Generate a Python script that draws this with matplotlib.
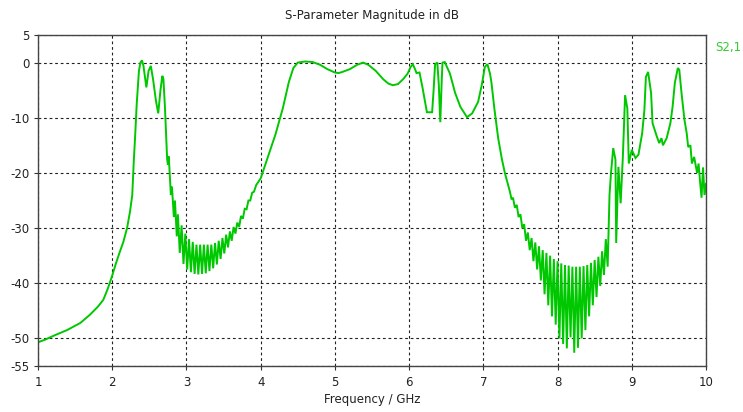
import matplotlib
matplotlib.use("Agg")
import matplotlib.pyplot as plt

# |S21| in dB versus frequency (GHz), kept as consecutive pieces of the trace

# low-frequency skirt and the first passband (1.0 .. 2.77 GHz)
f_band1 = [1.00, 1.10, 1.23, 1.39, 1.57, 1.70, 1.81, 1.88, 1.94, 2.00, 2.05, 2.10, 2.15, 2.20,
           2.24, 2.27, 2.29, 2.31, 2.33, 2.36, 2.38, 2.40, 2.42, 2.46, 2.49, 2.52, 2.55, 2.59,
           2.62, 2.65, 2.675, 2.69, 2.71, 2.73, 2.74, 2.75, 2.76, 2.77]
s_band1 = [-50.7, -50.2, -49.4, -48.5, -47.2, -45.7, -44.2, -43.0, -41.0, -38.6, -36.4, -34.4,
           -32.5, -30.0, -27.0, -24.0, -18.0, -13.0, -7.5, -1.5, 0.0, 0.4, -0.5, -4.5, -1.5,
           -0.6, -3.0, -7.0, -9.2, -5.0, -2.4, -3.0, -8.0, -14.5, -17.5, -18.5, -17.0, -19.0]

# rippled stopband (2.79 .. 3.94 GHz)
f_stop1 = [2.79, 2.805, 2.83, 2.845, 2.87, 2.885, 2.91, 2.935, 2.96, 2.985, 3.01, 3.035, 3.06,
           3.085, 3.11, 3.135, 3.16, 3.185, 3.21, 3.235, 3.26, 3.285, 3.31, 3.335, 3.36, 3.385,
           3.41, 3.435, 3.46, 3.485, 3.51, 3.535, 3.56, 3.585, 3.61, 3.635, 3.66, 3.685, 3.71,
           3.735, 3.76, 3.785, 3.81, 3.835, 3.86, 3.885, 3.91, 3.94]
s_stop1 = [-24.0, -22.5, -28.0, -25.0, -31.5, -27.5, -34.5, -29.5, -36.5, -31.0, -37.5, -32.0,
           -38.0, -32.5, -38.3, -33.0, -38.4, -33.0, -38.3, -33.0, -38.2, -33.0, -37.8, -33.0,
           -37.3, -32.7, -36.6, -32.3, -35.6, -31.8, -34.6, -31.2, -33.5, -30.6, -32.3, -29.8,
           -31.0, -29.0, -29.8, -27.8, -28.3, -26.5, -26.6, -25.0, -25.0, -23.6, -23.4, -22.2]

# second passband (4.0 .. 7.38 GHz)
f_band2 = [4.00, 4.10, 4.20, 4.30, 4.38, 4.44, 4.50, 4.60, 4.70, 4.80, 4.90, 5.00, 5.05, 5.10,
           5.20, 5.30, 5.38, 5.45, 5.55, 5.65, 5.72, 5.78, 5.85, 5.92, 5.98, 6.02, 6.05, 6.08,
           6.10, 6.14, 6.18, 6.24, 6.31, 6.33, 6.35, 6.38, 6.40, 6.42, 6.44, 6.45, 6.48, 6.55,
           6.62, 6.69, 6.78, 6.85, 6.93, 6.98, 7.02, 7.055, 7.09, 7.11, 7.15, 7.20, 7.25, 7.29,
           7.33, 7.36, 7.38]
s_band2 = [-21.0, -17.0, -13.0, -8.2, -3.5, -1.0, 0.0, 0.2, 0.1, -0.4, -1.2, -1.8, -1.9, -1.7,
           -1.2, -0.4, 0.0, -0.4, -1.5, -3.0, -3.8, -4.1, -3.9, -3.0, -2.0, -0.8, -0.3, -1.2,
           -1.9, -1.8, -4.5, -9.0, -9.0, -5.0, -0.3, 0.0, -4.0, -10.8, -3.0, 0.0, 0.1, -2.0,
           -5.5, -8.0, -9.9, -9.2, -7.1, -4.0, -0.8, -0.3, -2.0, -3.7, -8.5, -13.7, -17.5, -20.0,
           -22.0, -23.5, -24.8]

# deep rippled stopband (7.40 .. 8.675 GHz)
f_stop2 = [7.40, 7.425, 7.45, 7.475, 7.50, 7.525, 7.55, 7.575, 7.60, 7.625, 7.65, 7.675, 7.70,
           7.725, 7.75, 7.775, 7.80, 7.825, 7.85, 7.875, 7.90, 7.925, 7.95, 7.975, 8.00, 8.025,
           8.05, 8.075, 8.10, 8.125, 8.15, 8.175, 8.20, 8.225, 8.25, 8.275, 8.30, 8.325, 8.35,
           8.375, 8.40, 8.425, 8.45, 8.475, 8.50, 8.525, 8.55, 8.575, 8.60, 8.625, 8.65, 8.675]
s_stop2 = [-24.5, -26.3, -25.8, -28.0, -27.5, -30.0, -29.3, -32.3, -30.8, -34.0, -31.8, -36.0,
           -32.6, -37.5, -33.3, -39.5, -34.0, -42.0, -34.5, -44.0, -35.0, -46.0, -35.6, -47.5,
           -36.0, -50.0, -36.4, -51.0, -36.7, -51.8, -36.8, -49.8, -37.0, -52.6, -37.0, -51.7,
           -37.0, -50.0, -36.9, -48.5, -36.7, -46.0, -36.3, -44.0, -35.8, -42.5, -35.2, -40.5,
           -34.2, -38.5, -32.0, -37.0]

# upper band (8.70 .. 10.0 GHz)
f_band3 = [8.70, 8.72, 8.75, 8.78, 8.79, 8.80, 8.82, 8.85, 8.88, 8.91, 8.94, 8.96, 9.00, 9.05,
           9.09, 9.14, 9.17, 9.19, 9.22, 9.26, 9.28, 9.34, 9.37, 9.40, 9.42, 9.47, 9.52, 9.55,
           9.58, 9.62, 9.64, 9.67, 9.71, 9.74, 9.76, 9.79, 9.81, 9.84, 9.88, 9.90, 9.92, 9.94,
           9.96, 9.98, 10.00]
s_band3 = [-24.0, -20.0, -15.5, -17.6, -32.7, -28.0, -18.9, -25.5, -17.0, -5.9, -8.3, -18.3,
           -15.8, -17.3, -16.7, -12.8, -8.6, -2.6, -1.7, -5.5, -11.0, -13.5, -14.6, -13.7, -15.0,
           -13.7, -11.0, -8.0, -3.7, -1.0, -1.3, -5.5, -10.4, -12.8, -15.3, -15.0, -18.3, -17.1,
           -20.0, -18.3, -21.6, -24.5, -19.0, -24.0, -22.0]

x_ticks = [1, 2, 3, 4, 5, 6, 7, 8, 9, 10]
y_ticks = [5, 0, -10, -20, -30, -40, -50, -55]

freq_ghz = f_band1 + f_stop1 + f_band2 + f_stop2 + f_band3
s21_db = s_band1 + s_stop1 + s_band2 + s_stop2 + s_band3

W, H = 743, 412
fig = plt.figure(figsize=(W / 100, H / 100), dpi=100)
fig.patch.set_facecolor("white")
ax = fig.add_axes([38 / W, 1 - 366 / H, (706 - 38) / W, (366 - 35) / H])

ax.plot(freq_ghz, s21_db, color="#00c800", lw=1.4, solid_joinstyle="miter")

ax.set_xlim(1, 10)
ax.set_ylim(-55, 5)
ax.set_xticks(x_ticks)
ax.set_yticks(y_ticks)
ax.set_xticklabels([str(t) for t in x_ticks])
ax.set_yticklabels([str(t) for t in y_ticks])
ax.tick_params(axis="both", labelsize=8.5, colors="#333333", length=3, width=0.8,
               direction="out", labelcolor="#222222")
ax.tick_params(axis="x", pad=4)
ax.tick_params(axis="y", pad=3)
ax.grid(True, color="#222222", linestyle=(0, (2.5, 2.5)), linewidth=0.8)
for sp in ax.spines.values():
    sp.set_color("#444444")
    sp.set_linewidth(1.0)

ax.set_xlabel("Frequency / GHz", fontsize=8.5, color="#222222", labelpad=3)
fig.text(0.5 * (38 + 706) / W, 1 - 15 / H, "S-Parameter Magnitude in dB",
         ha="center", va="center", fontsize=8.5, color="#222222")
fig.text(715 / W, 1 - 47 / H, "S2,1", ha="left", va="center",
         fontsize=8.5, color="#33cc33")

fig.savefig("out.png", dpi=100)
